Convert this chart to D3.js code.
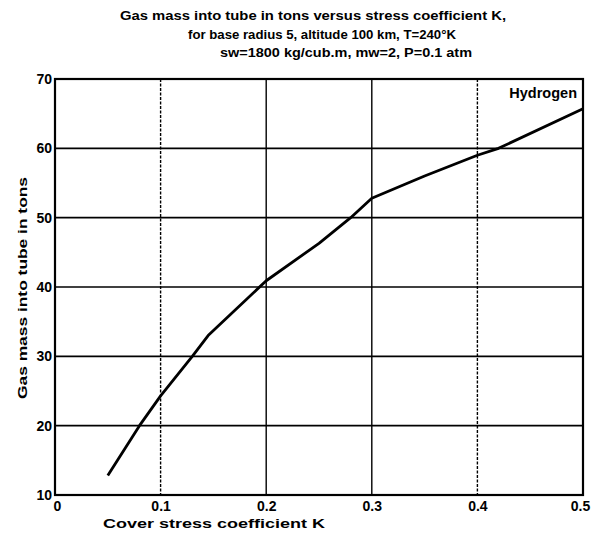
<!DOCTYPE html>
<html>
<head>
<meta charset="utf-8">
<script src="https://cdn.jsdelivr.net/npm/d3@7"></script>
<style>
  body { margin: 0; background: #fff; }
  svg { display: block; }
  text { font-family: "Liberation Sans", Arial, sans-serif; font-weight: bold; fill: #000; }
</style>
</head>
<body>
<svg id="chart" width="600" height="536"></svg>
<script>
// curve
var kValues = [0.05, 0.08, 0.1, 0.13, 0.145, 0.2, 0.25, 0.28, 0.3, 0.35, 0.4, 0.42, 0.5]
var massValues = [12.8, 20, 24.3, 30, 33, 40.9, 46.3, 50, 52.8, 56, 59, 60, 65.7]

var xTicks = [0, 0.1, 0.2, 0.3, 0.4, 0.5]
var xTickLabels = ["0", "0.1", "0.2", "0.3", "0.4", "0.5"]
var yTicks = [10, 20, 30, 40, 50, 60, 70]

var titleLines = [
    "Gas mass into tube in tons  versus stress coefficient K,",
    "for base radius 5, altitude 100 km, T=240°K",
    "sw=1800 kg/cub.m, mw=2,  P=0.1 atm"
]
var seriesName = "Hydrogen"
var xLabel = "Cover stress coefficient K"
var yLabel = "Gas mass into tube in tons"

var drawChart = function() {
    var svg = d3.select("#chart")
    var m = {left: 55, right: 583, top: 79, bottom: 495}

    var x = d3.scaleLinear().domain([0, 0.5]).range([m.left, m.right])
    var y = d3.scaleLinear().domain([10, 70]).range([m.bottom, m.top])

    // title, three lines, each starting a bit further right
    var titleX = [120, 188, 220]
    var titleW = [386, 268, 252]
    svg.append("g").selectAll("text")
        .data(titleLines)
        .enter().append("text")
        .attr("x", function(d, i) { return titleX[i] })
        .attr("y", function(d, i) { return 20 + i * 18.5 })
        .attr("font-size", 13)
        .attr("textLength", function(d, i) { return titleW[i] })
        .attr("lengthAdjust", "spacingAndGlyphs")
        .text(function(d) { return d })

    // grid
    svg.append("g").selectAll("line")
        .data(yTicks.slice(1, -1))
        .enter().append("line")
        .attr("x1", m.left).attr("x2", m.right)
        .attr("y1", function(d) { return y(d) }).attr("y2", function(d) { return y(d) })
        .attr("stroke", "#000").attr("stroke-width", 1.6)

    svg.append("g").selectAll("line")
        .data(xTicks.slice(1, -1))
        .enter().append("line")
        .attr("y1", m.top).attr("y2", m.bottom)
        .attr("x1", function(d) { return x(d) }).attr("x2", function(d) { return x(d) })
        .attr("stroke", "#000").attr("stroke-width", 1.4)
        .attr("stroke-dasharray", function(d) { return (d == 0.1 || d == 0.4) ? "3,1.5" : null })

    // frame
    svg.append("rect")
        .attr("x", m.left).attr("y", m.top)
        .attr("width", m.right - m.left).attr("height", m.bottom - m.top)
        .attr("fill", "none").attr("stroke", "#000").attr("stroke-width", 2.2)

    // axes (labels only, the frame draws the lines)
    var xAxis = svg.append("g")
        .attr("transform", "translate(0," + m.bottom + ")")
        .call(d3.axisBottom(x).tickValues(xTicks).tickSize(0).tickPadding(6)
            .tickFormat(function(d, i) { return xTickLabels[i] }))
    xAxis.select(".domain").remove()
    xAxis.selectAll("text").attr("font-size", 14).attr("font-family", null)
        .attr("dx", function(d) { return d == 0 ? 2 : (d == 0.5 ? -3 : 0) })

    var yAxis = svg.append("g")
        .attr("transform", "translate(" + m.left + ",0)")
        .call(d3.axisLeft(y).tickValues(yTicks).tickSize(0).tickPadding(3))
    yAxis.select(".domain").remove()
    yAxis.selectAll("text").attr("font-size", 14).attr("font-family", null)

    svg.append("text")
        .attr("x", 103).attr("y", 528)
        .attr("font-size", 13.5)
        .attr("textLength", 222)
        .attr("lengthAdjust", "spacingAndGlyphs")
        .text(xLabel)

    svg.append("text")
        .attr("transform", "translate(27,288) rotate(-90)")
        .attr("text-anchor", "middle")
        .attr("font-size", 13.5)
        .attr("textLength", 222)
        .attr("lengthAdjust", "spacingAndGlyphs")
        .text(yLabel)

    // curve
    var line = d3.line()
        .x(function(d) { return x(d[0]) })
        .y(function(d) { return y(d[1]) })

    svg.append("path")
        .datum(d3.zip(kValues, massValues))
        .attr("d", line)
        .attr("fill", "none")
        .attr("stroke", "#000")
        .attr("stroke-width", 2.8)
        .attr("stroke-linejoin", "round")

    svg.append("text")
        .attr("x", m.right - 6).attr("y", m.top + 19)
        .attr("text-anchor", "end")
        .attr("font-size", 14.5)
        .text(seriesName)
}

drawChart()
</script>
</body>
</html>
